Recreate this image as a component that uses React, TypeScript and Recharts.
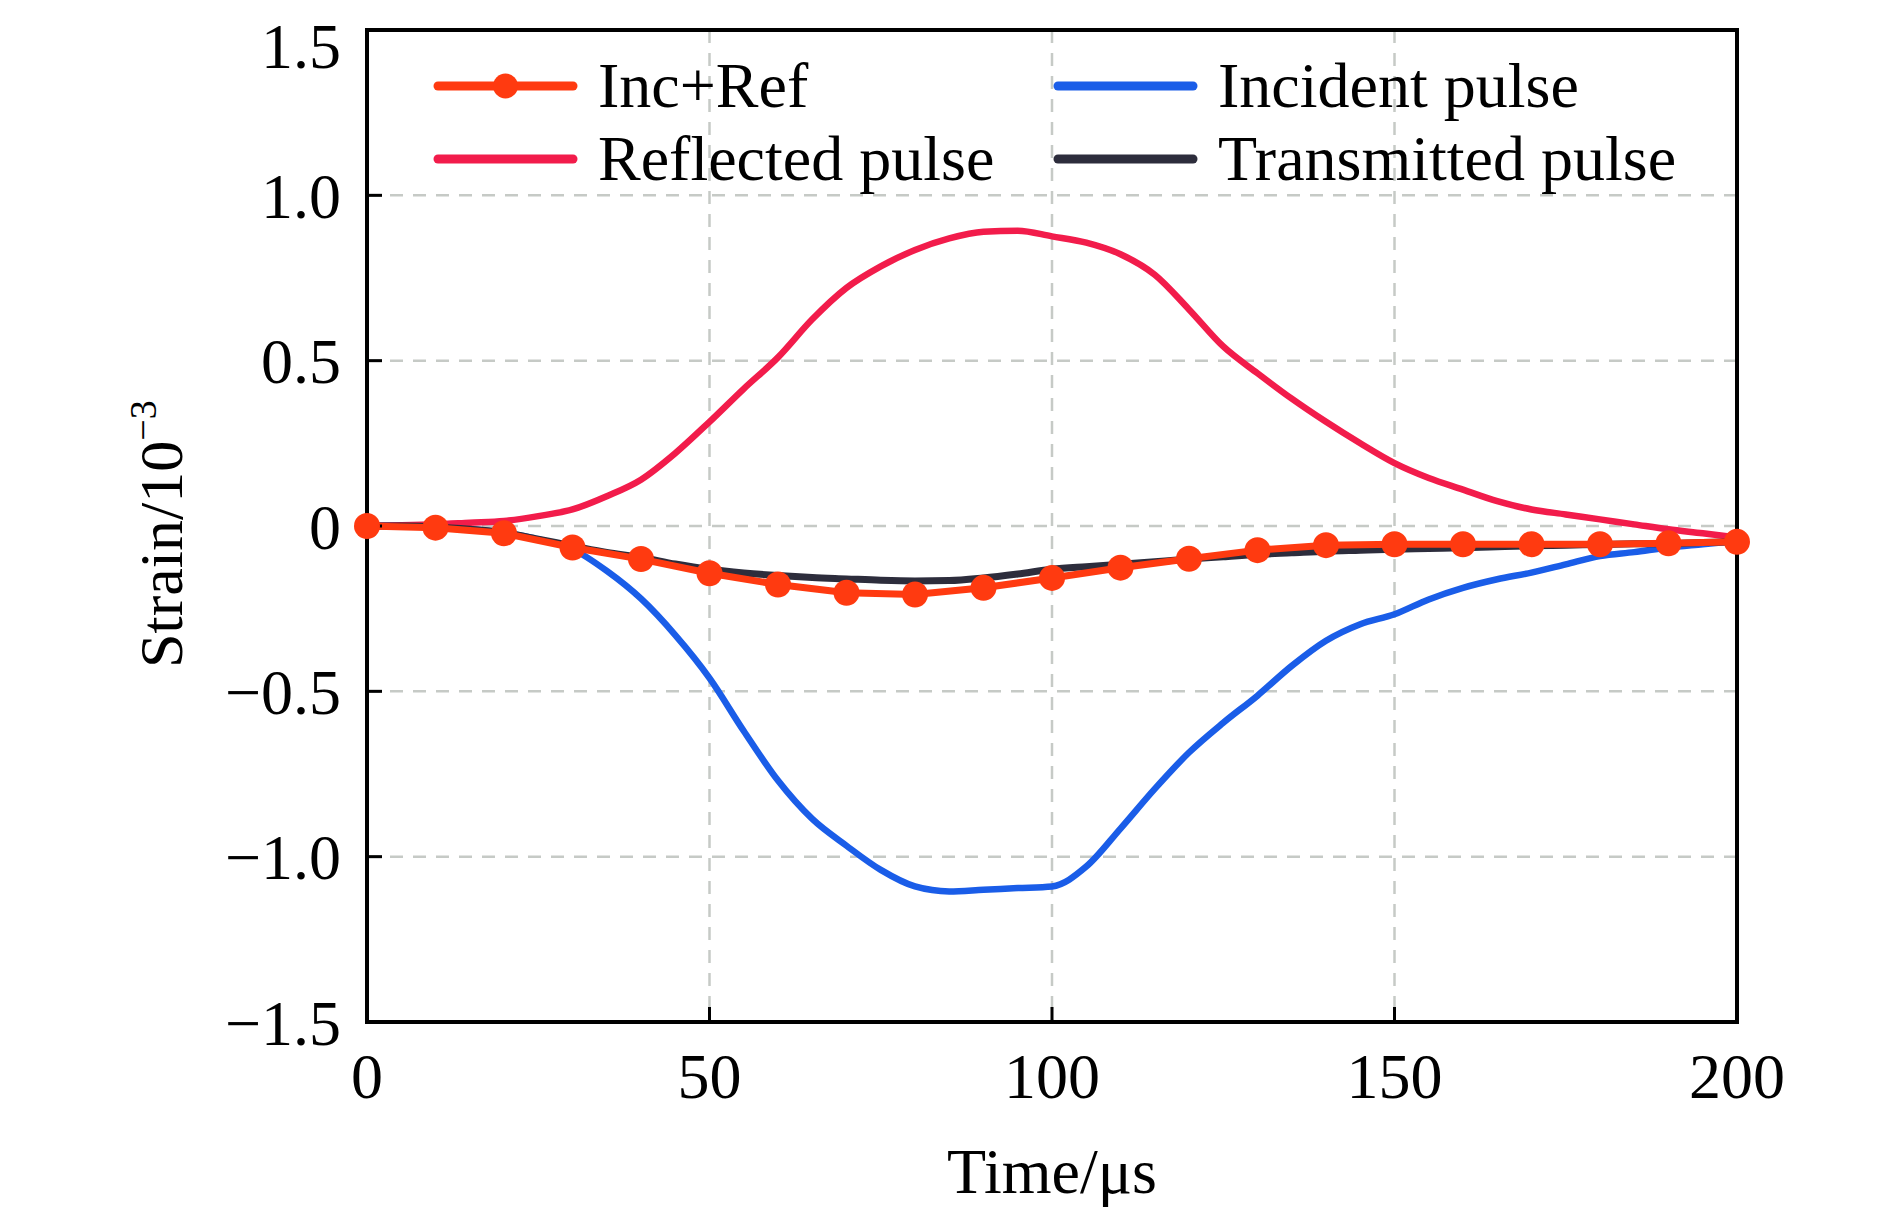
import React from "react";
import { LineChart, Line, XAxis, YAxis, CartesianGrid, Legend, ReferenceArea } from "recharts";

// time axis (µs), sampled every 5 µs for the smooth pulses
const TIME = [
  0, 5, 10, 15, 20, 25, 30, 35, 40, 45, 50, 55, 60, 65, 70, 75, 80, 85, 90, 95, 100,
  105, 110, 115, 120, 125, 130, 135, 140, 145, 150, 155, 160, 165, 170, 175, 180, 185, 190, 195, 200,
];
// Inc+Ref is drawn with a marker every 10 µs
const TIME_MARKED = [0, 10, 20, 30, 40, 50, 60, 70, 80, 90, 100, 110, 120, 130, 140, 150, 160, 170, 180, 190, 200];

const INCIDENT = [
  0, 0, -0.005, -0.01, -0.02, -0.04, -0.07, -0.136, -0.22, -0.33, -0.46, -0.62, -0.77, -0.886, -0.967, -1.04, -1.09, -1.105, -1.1, -1.095, -1.09,
  -1.03, -0.915, -0.795, -0.685, -0.595, -0.513, -0.423, -0.347, -0.297, -0.267, -0.222, -0.187, -0.161, -0.141, -0.116, -0.091, -0.079, -0.065, -0.055, -0.045,
];
const REFLECTED = [
  0, 0.002, 0.005, 0.01, 0.015, 0.03, 0.05, 0.09, 0.14, 0.22, 0.315, 0.415, 0.51, 0.625, 0.72, 0.785, 0.835, 0.87, 0.89, 0.893, 0.876,
  0.857, 0.822, 0.76, 0.655, 0.543, 0.462, 0.385, 0.315, 0.25, 0.19, 0.145, 0.11, 0.075, 0.05, 0.035, 0.02, 0.005, -0.01, -0.022, -0.035,
];
const TRANSMITTED = [
  0, 0, -0.003, -0.01, -0.02, -0.04, -0.06, -0.08, -0.095, -0.115, -0.131, -0.142, -0.15, -0.156, -0.16, -0.164, -0.166, -0.165, -0.157, -0.145, -0.131,
  -0.123, -0.116, -0.108, -0.1, -0.093, -0.086, -0.081, -0.076, -0.073, -0.07, -0.068, -0.066, -0.063, -0.06, -0.058, -0.056, -0.054, -0.053, -0.05, -0.048,
];
const INC_REF = [
  0, -0.005, -0.022, -0.065, -0.1, -0.143, -0.177, -0.202, -0.207, -0.187, -0.157,
  -0.126, -0.099, -0.073, -0.058, -0.055, -0.055, -0.055, -0.055, -0.052, -0.048,
];

const X_TICKS = [0, 50, 100, 150, 200];
const Y_TICKS = [-1.5, -1, -0.5, 0, 0.5, 1, 1.5];

const C_INCREF = "#ff3a10";
const C_REFL = "#f21c4b";
const C_INC = "#1a5de8";
const C_TRANS = "#2d2d3c";

const FONT = "'Liberation Serif', 'Times New Roman', serif";

const toPoints = (xs: number[], ys: number[]) => xs.map((t, i) => ({ t, v: ys[i] }));

const incidentData = toPoints(TIME, INCIDENT);
const reflectedData = toPoints(TIME, REFLECTED);
const transmittedData = toPoints(TIME, TRANSMITTED);
const incRefData = toPoints(TIME_MARKED, INC_REF);

const fmtY = (v: number) => (v === 0 ? "0" : (v < 0 ? "\u2212" : "") + Math.abs(v).toFixed(1));

function LegendBox() {
  const rows = [
    { name: "Inc+Ref", color: C_INCREF, col: 0, row: 0, dot: true },
    { name: "Incident pulse", color: C_INC, col: 1, row: 0, dot: false },
    { name: "Reflected pulse", color: C_REFL, col: 0, row: 1, dot: false },
    { name: "Transmitted pulse", color: C_TRANS, col: 1, row: 1, dot: false },
  ];
  return (
    <svg width={1300} height={170} style={{ overflow: "visible" }}>
      {rows.map(r => {
        const x0 = r.col === 0 ? 18 : 638;
        const y = 46 + r.row * 73;
        return (
          <g key={r.name}>
            <line x1={x0} x2={x0 + 135} y1={y} y2={y} stroke={r.color} strokeWidth={9} strokeLinecap="round" />
            {r.dot && <circle cx={x0 + 67.5} cy={y} r={12.5} fill={r.color} />}
            <text x={x0 + 160} y={y + 21} fontSize={64} fontFamily={FONT} fill="#000">{r.name}</text>
          </g>
        );
      })}
    </svg>
  );
}

export default function App() {
  return (
    <LineChart
      width={1874}
      height={1205}
      margin={{ top: 22, right: 145, bottom: 0, left: 0 }}
      style={{ fontFamily: FONT }}
    >
      <CartesianGrid stroke="#c6cac6" strokeWidth={2.5} strokeDasharray="13 10" />
      <XAxis
        dataKey="t"
        type="number"
        domain={[0, 200]}
        ticks={X_TICKS}
        height={191}
        axisLine={{ stroke: "#000", strokeWidth: 4 }}
        tickLine={{ stroke: "#000", strokeWidth: 3 }}
        tickSize={-15}
        tickMargin={46}
        tick={{ fill: "#000", fontSize: 64, fontFamily: FONT }}
        label={() => (
          <text x={1044} y={1185} textAnchor="middle" fontSize={64} fontFamily={FONT} fill="#000">
            Time/μs
          </text>
        )}
      />
      <YAxis
        type="number"
        domain={[-1.5, 1.5]}
        ticks={Y_TICKS}
        width={359}
        axisLine={{ stroke: "#000", strokeWidth: 4 }}
        tickLine={{ stroke: "#000", strokeWidth: 3 }}
        tickSize={-15}
        tickMargin={41}
        tickFormatter={fmtY}
        tick={{ fill: "#000", fontSize: 64, fontFamily: FONT }}
        label={() => (
          <text x={174} y={660} transform="rotate(-90 174 660)" fontSize={62} fontFamily={FONT} fill="#000">
            Strain/10
            <tspan fontSize={38} dy={-26}>{"\u22123"}</tspan>
          </text>
        )}
      />
      <ReferenceArea x1={0} x2={200} y1={-1.5} y2={1.5} fill="none" stroke="#000" strokeWidth={4} ifOverflow="visible" />
      <Legend
        layout="horizontal"
        verticalAlign="middle"
        align="center"
        wrapperStyle={{ top: 32, left: 412, width: 1300, height: 170 }}
        content={() => <LegendBox />}
      />
      <Line data={incidentData} dataKey="v" name="Incident pulse" type="monotone" stroke={C_INC} strokeWidth={6.5} dot={false} activeDot={false} isAnimationActive={false} />
      <Line data={reflectedData} dataKey="v" name="Reflected pulse" type="monotone" stroke={C_REFL} strokeWidth={6.5} dot={false} activeDot={false} isAnimationActive={false} />
      <Line data={transmittedData} dataKey="v" name="Transmitted pulse" type="monotone" stroke={C_TRANS} strokeWidth={7} dot={false} activeDot={false} isAnimationActive={false} />
      <Line
        data={incRefData}
        dataKey="v"
        name="Inc+Ref"
        type="linear"
        stroke={C_INCREF}
        strokeWidth={7}
        dot={{ r: 13, fill: C_INCREF, stroke: C_INCREF, strokeWidth: 0 }}
        activeDot={false}
        isAnimationActive={false}
      />
    </LineChart>
  );
}
